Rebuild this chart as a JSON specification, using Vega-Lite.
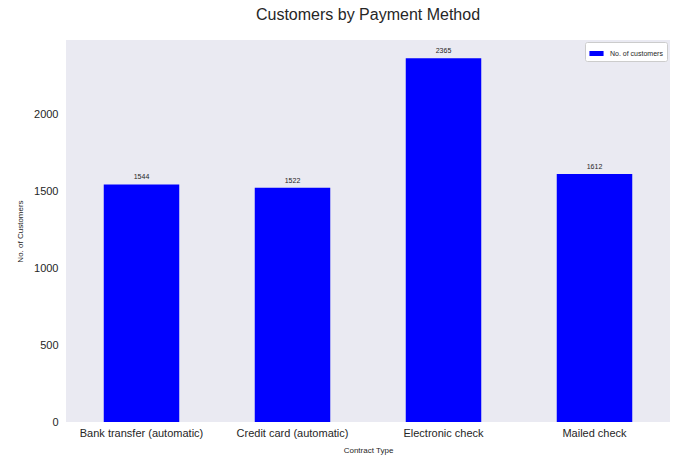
{
  "$schema": "https://vega.github.io/schema/vega-lite/v6.json",
  "width": 604,
  "height": 382,
  "autosize": {"type": "none"},
  "padding": {"left": 66, "top": 40, "right": 3, "bottom": 37},
  "background": "white",
  "config": {
    "font": "Liberation Sans",
    "view": {"fill": "#EAEAF2", "stroke": null},
    "axis": {"grid": false, "domain": false, "ticks": false, "labelColor": "#262626", "titleColor": "#262626", "labelFont": "Liberation Sans", "titleFont": "Liberation Sans", "titleFontWeight": "normal"}
  },
  "title": {"text": "Customers by Payment Method", "fontSize": 16, "fontWeight": "normal", "color": "#262626", "font": "Liberation Sans", "offset": 17, "anchor": "middle"},
  "data": {"values": [
    {"method": "Bank transfer (automatic)", "count": 1544},
    {"method": "Credit card (automatic)", "count": 1522},
    {"method": "Electronic check", "count": 2365},
    {"method": "Mailed check", "count": 1612}
  ]},
  "encoding": {
    "x": {"field": "method", "type": "nominal", "sort": null,
      "scale": {"paddingInner": 0.5, "paddingOuter": 0.25},
      "axis": {"title": "Contract Type", "labelAngle": 0, "labelFontSize": 11, "labelPadding": 5, "titleFontSize": 8, "titlePadding": 8}},
    "y": {"field": "count", "type": "quantitative",
      "scale": {"domain": [0, 2483], "nice": false},
      "axis": {"title": "No. of Customers", "format": "d", "values": [0, 500, 1000, 1500, 2000], "labelFontSize": 11, "labelPadding": 8, "titleFontSize": 8, "titlePadding": 9}}
  },
  "layer": [
    {
      "mark": {"type": "bar"},
      "encoding": {
        "color": {"datum": "No. of customers", "type": "nominal",
          "scale": {"range": ["#0000FF"]},
          "legend": {"title": null, "orient": "none", "legendX": 519, "legendY": 2, "labelFontSize": 7, "labelColor": "#262626",
            "symbolType": "M-1,-0.35L1,-0.35L1,0.35L-1,0.35Z", "symbolSize": 200, "symbolStrokeWidth": 0,
            "fillColor": "#FFFFFF", "strokeColor": "#CCCCCC", "padding": 4, "cornerRadius": 2, "labelOffset": 6}}
      }
    },
    {
      "mark": {"type": "text", "baseline": "bottom", "dy": -4, "fontSize": 7, "color": "#262626"},
      "encoding": {"text": {"field": "count", "type": "quantitative"}}
    }
  ]
}
